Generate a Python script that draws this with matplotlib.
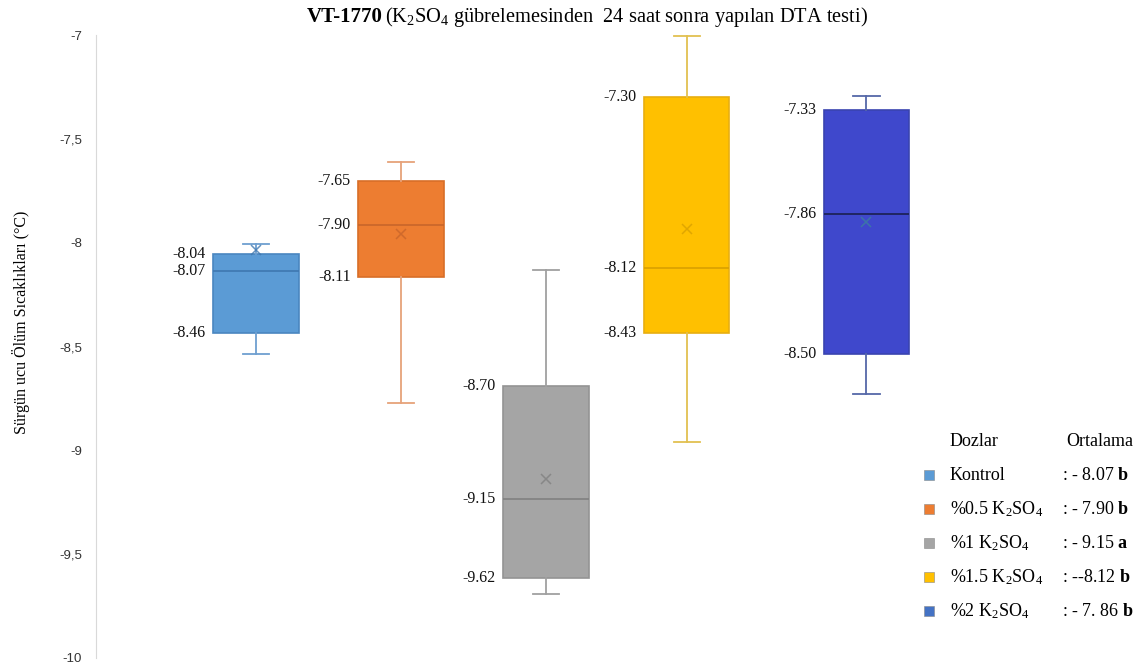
import matplotlib.pyplot as plt
from matplotlib.patches import Rectangle

plt.rcParams["font.family"] = ["Liberation Serif", "DejaVu Serif"]
plt.rcParams["mathtext.fontset"] = "custom"
plt.rcParams["mathtext.rm"] = "Liberation Serif"
plt.rcParams["mathtext.it"] = "Liberation Serif:italic"
plt.rcParams["mathtext.bf"] = "Liberation Serif:bold"

# data
doses = ["Kontrol", "%0.5 K$_2$SO$_4$", "%1 K$_2$SO$_4$", "%1.5 K$_2$SO$_4$", "%2 K$_2$SO$_4$"]
whis_hi = [-8.008, -7.612, -8.132, -7.003, -7.294]
q3 = [-8.055, -7.702, -8.690, -7.297, -7.361]
median = [-8.135, -7.913, -9.236, -8.121, -7.863]
q1 = [-8.434, -8.164, -9.616, -8.434, -8.538]
whis_lo = [-8.536, -8.772, -9.692, -8.961, -8.729]
means = [-8.035, -7.958, -9.139, -7.936, -7.902]
top_labels = ["-8.04", "-7.65", "-8.70", "-7.30", "-7.33"]
mid_labels = ["-8.07", "-7.90", "-9.15", "-8.12", "-7.86"]
low_labels = ["-8.46", "-8.11", "-9.62", "-8.43", "-8.50"]
mean_text = [": - 8.07 ", ": - 7.90 ", ": - 9.15 ", ": --8.12 ", ": - 7. 86 "]
groups = ["b", "b", "a", "b", "b"]
yticks = [-10, -9.5, -9, -8.5, -8, -7.5, -7]
ytick_labels = ["-10", "-9,5", "-9", "-8,5", "-8", "-7,5", "-7"]

fills = ["#5B9BD5", "#ED7D31", "#A5A5A5", "#FFC000", "#3F48CC"]
edges = ["#4A86C0", "#D86E28", "#939393", "#E8AE10", "#3A44B0"]
whisk = ["#6E9FD0", "#E6A27A", "#A0A0A0", "#E2C050", "#5568A8"]
med_col = ["#3F78B0", "#C8652A", "#808080", "#D9A000", "#1A2050"]
mean_col = ["#3F78B0", "#C8652A", "#808080", "#D9A000", "#3C7FA0"]
legend_cols = ["#5B9BD5", "#ED7D31", "#A5A5A5", "#FFC000", "#4472C4"]

positions = [1, 2, 3, 3.97, 5.21]
widths = [0.59] * 5

stats = []
for i in range(5):
    stats.append({"whislo": whis_lo[i], "q1": q1[i], "med": median[i], "q3": q3[i],
                  "whishi": whis_hi[i], "mean": means[i], "fliers": []})

fig = plt.figure(figsize=(11.39, 6.71), dpi=100)
ax = fig.add_axes([0.0843, 0.0194, 0.7322, 0.9284])

parts = ax.bxp(stats, positions=positions, widths=widths, capwidths=[0.18] * 5,
               patch_artist=True, showmeans=True, showfliers=False,
               manage_ticks=False)

for i in range(5):
    parts["boxes"][i].set_facecolor(fills[i])
    parts["boxes"][i].set_edgecolor(edges[i])
    parts["boxes"][i].set_linewidth(1.2)
    parts["medians"][i].set_color(med_col[i])
    parts["medians"][i].set_linewidth(1.2)
    for ln in parts["whiskers"][2 * i:2 * i + 2] + parts["caps"][2 * i:2 * i + 2]:
        ln.set_color(whisk[i])
        ln.set_linewidth(1.3)
    m = parts["means"][i]
    m.set_marker("x")
    m.set_markersize(7)
    m.set_markeredgecolor(mean_col[i])
    m.set_markerfacecolor(mean_col[i])
    m.set_markeredgewidth(1.1)
    m.set_alpha(0.8)

    # value labels on the left of each box
    xl = positions[i] - widths[i] / 2 - 0.05
    for val, lab in zip([q3[i], median[i], q1[i]], [top_labels[i], mid_labels[i], low_labels[i]]):
        ax.text(xl, val, lab, ha="right", va="center", fontsize=11.5, color="#111111")

ax.set_ylim(-10, -7)
ax.set_xlim(-0.103, 5.648)
ax.set_yticks(yticks)
ax.set_yticklabels(ytick_labels, family="Liberation Sans", fontsize=9.5, color="#333333")
ax.tick_params(axis="y", length=0, pad=10)
ax.set_xticks([])
for s in ["top", "right", "bottom"]:
    ax.spines[s].set_visible(False)
ax.spines["left"].set_color("#D9D9D9")

fig.text(21 / 1139, 1 - 322 / 671, "Sürgün ucu Ölüm Sıcaklıkları (°C)", rotation=90,
         ha="center", va="center", fontsize=11.5)

# title
fig.text(383 / 1139, 1 - 17 / 671, "VT-1770", ha="right", va="center", fontsize=15, weight="bold")
fig.text(385 / 1139, 1 - 17 / 671, "(K$_2$SO$_4$ gübrelemesinden  24 saat sonra yapılan DTA testi)",
         ha="left", va="center", fontsize=14.7)

# legend table
fig.text(950 / 1139, 1 - 442 / 671, "Dozlar", ha="left", va="center", fontsize=13)
fig.text(1066 / 1139, 1 - 442 / 671, "Ortalama", ha="left", va="center", fontsize=13)
for i in range(5):
    yy = 475 + 34 * i
    fig.patches.append(Rectangle((924 / 1139, 1 - (yy + 5) / 671), 10 / 1139, 10 / 671,
                                 transform=fig.transFigure, facecolor=legend_cols[i],
                                 edgecolor="#888888", linewidth=0.4))
    fig.text(950 / 1139, 1 - yy / 671, doses[i], ha="left", va="center", fontsize=13)
    fig.text(1062 / 1139, 1 - yy / 671, mean_text[i] + "$\\mathbf{" + groups[i] + "}$",
             ha="left", va="center", fontsize=13)

fig.savefig("out.png", dpi=100)
